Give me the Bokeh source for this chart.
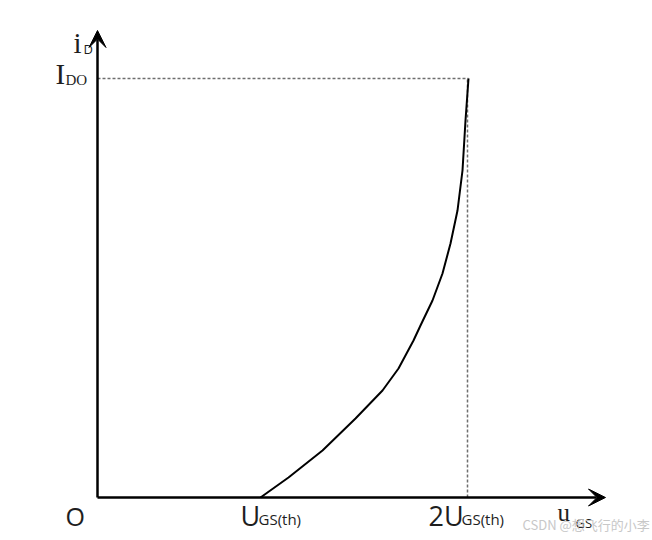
from bokeh.plotting import figure
from bokeh.models import Range1d, Arrow, VeeHead
from bokeh.core.properties import value
from bokeh.embed import file_html
from bokeh.resources import INLINE

# Transfer characteristic curve (u_GS vs i_D), diagram units
curve_x = [163, 191, 225, 258, 285, 301, 316, 323, 335, 345, 353, 360, 365, 368, 371]
curve_y = [0, 20, 47, 79, 107, 129, 157, 172, 197, 224, 254, 287, 327, 377, 419]

# key positions
x_th = 163        # U_GS(th)
x_2th = 370       # 2U_GS(th)
y_ido = 419       # I_DO
x_axis_end = 508
y_axis_end = 467

p = figure(width=652, height=540, x_range=Range1d(-97, 555), y_range=Range1d(-43, 497),
           output_backend="svg", toolbar_location=None, min_border=0,
           x_axis_location=None, y_axis_location=None)
p.outline_line_color = None
p.xgrid.visible = False
p.ygrid.visible = False

# dashed guides
p.line([0, x_2th + 1], [y_ido, y_ido], line_color="#6e6e6e", line_width=1.5, line_dash="3 2")
p.line([x_2th, x_2th], [0, y_ido], line_color="#6e6e6e", line_width=1.5, line_dash="3 2")

# axes with arrows
p.add_layout(Arrow(end=VeeHead(size=17, fill_color="black", line_color="black"),
                   x_start=0, y_start=0, x_end=x_axis_end, y_end=0,
                   line_width=2.5, line_color="black"))
p.add_layout(Arrow(end=VeeHead(size=17, fill_color="black", line_color="black"),
                   x_start=0, y_start=0, x_end=0, y_end=y_axis_end,
                   line_width=2.5, line_color="black"))

# curve
p.line(curve_x, curve_y, line_color="black", line_width=2, line_join="round")

serif = value("Liberation Serif")
sans = value("Open Sans")
col = "#1e1e1e"

def txt(x, y, s, font, size, color=col, baseline="alphabetic"):
    p.text(x=[x], y=[y], text=[s], text_font=font, text_font_size=size,
           text_color=color, text_baseline=baseline, text_align="left")

txt(-24, 455, "i", serif, "29px")
txt(-14, 449, "D", sans, "13px")
txt(-42, 424, "I", serif, "29px")
txt(-32, 418, "DO", serif, "15px")
txt(-32, -18, "O", sans, "25px")
txt(143, -18, "U", sans, "27px")
txt(161, -21, "GS(th)", sans, "15px")
txt(331, -18, "2U", sans, "27px")
txt(364, -21, "GS(th)", sans, "15px")
txt(460, -15, "u", serif, "25px")
txt(478, -25, "GS", sans, "13px")
txt(425, -27, "CSDN @想飞行的小李", value("Noto Sans CJK SC"), "13px", color="#c8c8c8", baseline="middle")

open("out.html", "w").write(file_html(p, INLINE))
